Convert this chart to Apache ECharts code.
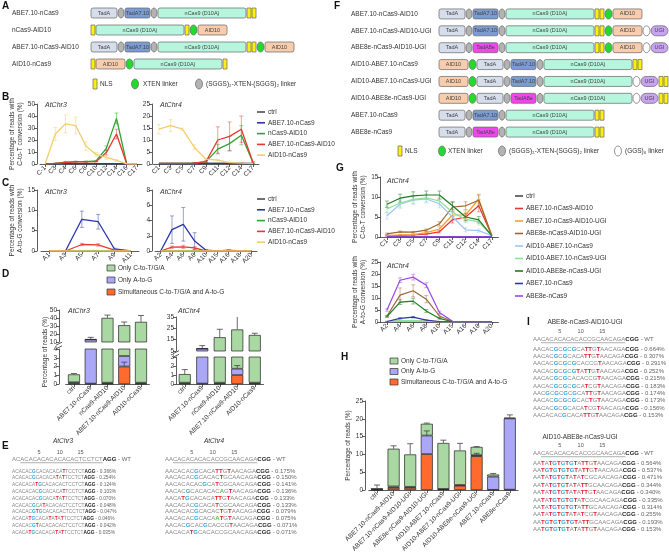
<!DOCTYPE html>
<html><head><meta charset="utf-8">
<script src="https://cdn.jsdelivr.net/npm/echarts@6.0.0/dist/echarts.min.js"></script>
<style>html,body{margin:0;padding:0;background:#fff;}#chart{width:669px;height:556px;}</style>
</head><body><div id="chart"></div>
<script>
// ================= DATA =================
// Panel A constructs
const constructsA = ['ABE7.10-nCas9','nCas9-AID10','ABE7.10-nCas9-AID10','AID10-nCas9'];
const partsA = [
  ['TadA','SG','TadA7.10','SG','nCas9','NLS','NLS'],
  ['NLS','nCas9','NLS','XTEN','AID10'],
  ['TadA','SG','TadA7.10','SG','nCas9','NLS','NLS','XTEN','AID10'],
  ['NLS','AID10','XTEN','nCas9','NLS']
];
// Panel F constructs
const constructsF = ['ABE7.10-nCas9-AID10','ABE7.10-nCas9-AID10-UGI','ABE8e-nCas9-AID10-UGI','AID10-ABE7.10-nCas9','AID10-ABE7.10-nCas9-UGI','AID10-ABE8e-nCas9-UGI','ABE7.10-nCas9','ABE8e-nCas9'];
const partsF = [
  ['TadA','SG','TadA7.10','SG','nCas9','NLS','NLS','XTEN','AID10'],
  ['TadA','SG','TadA7.10','SG','nCas9','NLS','NLS','XTEN','AID10','GGS','UGI'],
  ['TadA','SG','TadA8e','SG','nCas9','NLS','NLS','XTEN','AID10','GGS','UGI'],
  ['AID10','XTEN','TadA','SG','TadA7.10','SG','nCas9','NLS','NLS'],
  ['AID10','XTEN','TadA','SG','TadA7.10','SG','nCas9','GGS','UGI','NLS','NLS'],
  ['AID10','XTEN','TadA','SG','TadA8e','SG','nCas9','GGS','UGI','NLS','NLS'],
  ['TadA','SG','TadA7.10','SG','nCas9','NLS','NLS'],
  ['TadA','SG','TadA8e','SG','nCas9','NLS','NLS']
];

// Panel B / C series
const namesBC = ['ctrl','ABE7.10-nCas9','nCas9-AID10','ABE7.10-nCas9-AID10','AID10-nCas9'];
const bChr3Cats = ['C-1','C3','C4','C6','C8','C10','C12','C14','C16','C17'];
const bChr3Vals = [
  [0,0.1,0.1,0.1,0.1,0.1,0.1,0.1,0,0],
  [0,0.2,0.3,0.3,0.3,0.3,0.3,0.3,0,0],
  [0,0.5,1.5,2,2,2.5,13,38,0.2,0],
  [0,0.5,1.2,1.8,1.8,2,9.5,25,0.2,0],
  [0,25,33.5,32,15,8,5.5,3,0.2,0]
];
const bChr3Err = [null,null,
  [0,0.3,0.5,0.5,0.5,0.5,2,4.5,0,0],
  [0,0.2,0.3,0.3,0.3,0.3,2,4,0,0],
  [0,5.5,7.5,7,3.5,1.5,1.5,0.8,0,0]
];
const bChr4Cats = ['C1','C3','C5','C7','C9','C11','C12','C14','C17'];
const bChr4Vals = [
  [0.1,0.1,0.1,0.1,0.2,0.2,0.2,0.2,0.1],
  [0.2,0.2,0.2,0.2,0.3,0.3,0.3,0.3,0.2],
  [0.3,0.3,0.3,0.4,1,6.2,8.5,12,0.5],
  [0.3,0.3,0.3,0.4,1,10,11.5,14.5,0.5],
  [14.5,16,14.5,7,2,1.6,0.6,0.4,0.3]
];
const bChr4Err = [null,null,
  [0,0,0,0.1,0.3,2,3,4,0.3],
  [0,0,0,0.1,0.3,5.5,6,5.5,0.3],
  [2,2.5,0.5,1,0.3,0.3,0.2,0.1,0]
];
const cChr3Cats = ['A1','A3','A5','A7','A9','A11'];
const cChr3Vals = [
  [0,0,0,0,0,0],
  [0,0,7.8,7.2,0.5,0],
  [0,0,0,0,0,0],
  [0,0,1.6,1.5,0.2,0],
  [0,0,0,0,0,0]
];
const cChr3Err = [null,[0,0,2,1.8,0.2,0],null,[0,0,0.3,0.3,0,0],null];
const cChr4Cats = ['A2','A4','A6','A8','A10','A15','A16','A18','A20'];
const cChr4Vals = [
  [0,0,0,0,0,0,0,0,0],
  [0,2.8,3.5,1.3,0.1,0,0,0,0],
  [0,0,0,0,0,0,0,0,0],
  [0,0.5,0.55,0.4,0,0,0.1,0,0],
  [0,0,0,0,0,0,0,0,0]
];
const cChr4Err = [null,[0,1.8,2.2,1.1,0.1,0,0,0,0],null,[0,0.15,0.2,0.15,0,0,0.1,0,0],null];

// Panel D / H stacked bars (order: simultaneous, only A-to-G, only C-to-T/G/A)
const barNames = ['Simultaneous C-to-T/G/A and A-to-G','Only A-to-G','Only C-to-T/G/A'];
const dCats = ['ctrl','ABE7.10-nCas9','nCas9-AID10','ABE7.10-nCas9-AID10','AID10-nCas9'];
const dChr3Both = [0.05,0.05,0.05,2.0,0.05];
const dChr3AG   = [0.15,13,0.1,1.2,0.1];
const dChr3CT   = [0.9,0.3,40,27.8,35];
const dChr3ErrTop  = [0.1,2.5,3.5,4,8];
const dChr3ErrMid  = [0,0,0,0,0];
const dChr3ErrLow  = [0,0,0,0.5,0];
const dChr4Both = [0.05,0.05,0.05,1.0,0.05];
const dChr4AG   = [0.1,7,0.1,0.7,0.1];
const dChr4CT   = [0.95,0.2,17,22.3,19];
const dChr4ErrTop  = [0.5,2.5,7,12,1.5];
const dChr4ErrMid  = [0,0,0,0.35,0];
const dChr4ErrLow  = [0,0,0,0,0];

const hCats = ['ctrl','ABE7.10-nCas9-AID10','ABE7.10-nCas9-AID10-UGI','ABE8e-nCas9-AID10-UGI','AID10-ABE7.10-nCas9','AID10-ABE7.10-nCas9-UGI','AID10-ABE8e-nCas9-UGI','ABE7.10-nCas9','ABE8e-nCas9'];
const hBoth = [0.05,0.6,0.6,10.1,0.2,1.2,9.5,0.05,0.1];
const hAG   = [0.1,0.4,0.3,5.2,0.1,0.2,0.3,3.7,20];
const hCT   = [0.35,10.6,9.1,3.3,12.9,9.7,2.3,0.6,0.2];
const hErrTop = [0.9,0.8,3,0.2,0.8,2,0.1,0.3,0.8];
const hErrMid = [0,0,0,1.3,0,0,0,0,0];
const hErrLow = [0,0,0,0,0,0.2,0.8,0,0];

// Panel G lines
const namesG = ['ctrl','ABE7.10-nCas9-AID10','ABE7.10-nCas9-AID10-UGI','ABE8e-nCas9-AID10-UGI','AID10-ABE7.10-nCas9','AID10-ABE7.10-nCas9-UGI','AID10-ABE8e-nCas9-UGI','ABE7.10-nCas9','ABE8e-nCas9'];
const gCTCats = ['C1','C3','C5','C7','C9','C11','C12','C14','C17'];
const gCTVals = [
  [0.05,0.05,0.05,0.05,0.05,0.05,0.05,0.05,0.05],
  [0.3,0.4,0.5,0.7,1.3,4.3,5,7.8,0.3],
  [0.4,0.5,0.6,1.1,2,5.5,5.5,9.5,0.3],
  [0.8,1.3,1.2,1.7,3.3,7.5,7.8,9.2,0.3],
  [5.3,8.2,9.2,9.5,8.3,5,1.8,1.6,0.3],
  [7,8.5,9.4,9.8,9,6.2,4.4,3.8,0.3],
  [8.2,9.7,10.3,10.5,10.5,7.8,5,4.3,0.3],
  [0.05,0.05,0.05,0.05,0.05,0.05,0.05,0.05,0.05],
  [0.05,0.05,0.05,0.05,0.05,0.05,0.05,0.05,0.05]
];
const gCTErr = [null,
  [0.1,0.1,0.1,0.2,0.3,0.8,1,1.5,0],
  [0.1,0.1,0.2,0.3,0.5,1,1,1.2,0],
  [0.2,0.2,0.2,0.3,0.5,1.2,1,1.3,0],
  [0.8,1,1,1,1,1,0.5,0.4,0],
  [0.8,1,1,1,1,1,0.8,0.8,0],
  [0.8,1,1,1,1,1,0.8,0.8,0],
  null,null
];
const gAGCats = ['A2','A4','A6','A8','A10','A15','A16','A18','A20'];
const gAGVals = [
  [0,0,0,0,0,0,0,0,0],
  [0.1,0.4,0.5,0.3,0.1,0,0,0,0],
  [0.1,0.5,0.6,0.4,0.1,0,0,0,0],
  [2.5,11.2,13,9.5,2.5,0.2,0,0,0],
  [0.1,0.3,0.4,0.2,0.1,0,0,0,0],
  [0.2,0.6,0.7,0.4,0.1,0,0,0,0],
  [2.2,8.3,8.7,4.6,1.5,0.1,0,0,0],
  [0.2,1.5,2,0.8,0.2,0,0,0,0],
  [5,17.4,18.7,15.3,4,0.3,0,0,0]
];
const gAGErr = [null,null,null,
  [0.3,3,2.5,1.5,0.5,0,0,0,0],
  null,null,
  [0.3,1,1.2,0.6,0.3,0,0,0,0],
  [0.1,0.3,0.3,0.2,0,0,0,0,0],
  [0.5,1,1.2,1,0.5,0,0,0,0]
];

// Panel E / I sequences
const chr3WT = 'ACACACACACACACACTCCTCT', chr3PAM = 'AGG';
const chr3Seqs = ['ACACACGCACACACATTCCTCT','ACACACGCACACATATTCCTCT','ACACACATGCACACACTCCTCT','ACACACACGCACACATTCCTCT','ACACACACGCACATATTCCTCT','ACACACGCATACACACTCCTCT','ACACACGTGCACACACTCCTCT','ACACATGCACATATATTCCTCT','ACACACGTACACACACTCCTCT','ACACATGCACACATATTCCTCT'];
const chr3Pcts = ['0.366%','0.254%','0.124%','0.103%','0.070%','0.048%','0.047%','0.046%','0.042%','0.035%'];
const chr4WT = 'AACACACACACACCGCAACAGA', chr4PAM = 'CGG';
const chr4Seqs = ['AACACACGCACATTGTAACAGA','AACACACGCACACTGCAACAGA','AACACACACGCATCGCAACAGA','AACACGCACACACAGTAACAGA','AACATGCACACATTGTAACAGA','AACACACGCACATCGCAACAGA','AACACACGCACACTGTAACAGA','AACACACGCACAATGTAACAGA','AACACGCACGCACCGTAACAGA','AACACATGCACACCGCAACAGA'];
const chr4Pcts = ['0.175%','0.150%','0.141%','0.136%','0.133%','0.133%','0.079%','0.075%','0.071%','0.071%'];
const iSeqs1 = ['AACACGCGCGCATTGTAACAGA','AACACGCGCACATTGTAACAGA','AACACGCGCGCACCGTAACAGA','AACACGCGCGTATTGTAACAGA','AACACGCGCACACCGTAACAGA','AACACGCGCGCATCGTAACAGA','AACGCGCGCGCATTGTAACAGA','AACACGCGCGCACTGTAACAGA','AACACGCGCACATCGTAACAGA','AACACACGCACATTGTAACAGA'];
const iPcts1 = ['0.664%','0.307%','0.291%','0.252%','0.215%','0.183%','0.174%','0.173%','0.156%','0.153%'];
const iSeqs2 = ['AATATGTGTGTATTGTAACAGA','AATGTGTGTGTATTGTAACAGA','AATATGTGTATATCGCAACAGA','AATATGTGTATATTGCAACAGA','AATATGTGTATATTGTAACAGA','AATATGTGTGTATCGCAACAGA','AATATGTGTGTATTGCAACAGA','AATATGTGTATATCGTAACAGA','AATGTGTGTGTATTGCAACAGA','AATGTGTGTATATTGTAACAGA'];
const iPcts2 = ['0.564%','0.537%','0.471%','0.344%','0.340%','0.335%','0.314%','0.255%','0.193%','0.153%'];

// ================= STYLES =================
const FONT = '"Liberation Sans", Arial, Helvetica, sans-serif';
const COL = {
  'ctrl':'#4d4d4d','ABE7.10-nCas9':'#2b36a8','nCas9-AID10':'#2fa52f','ABE7.10-nCas9-AID10':'#e8372f','AID10-nCas9':'#f0cf6b',
  'ABE7.10-nCas9-AID10-UGI':'#f6a02a','ABE8e-nCas9-AID10-UGI':'#9c6634','AID10-ABE7.10-nCas9':'#9fc3f2',
  'AID10-ABE7.10-nCas9-UGI':'#8be29a','AID10-ABE8e-nCas9-UGI':'#1e7b22','ABE8e-nCas9':'#9a46e8'
};
const BAR_COL = ['#ff6a2e','#a9a7f6','#a9d8a3'];
const PART_W = {TadA:26,'TadA7.10':25,TadA8e:25,nCas9:88,AID10:29,NLS:4,SG:6,XTEN:7,GGS:7,UGI:17};
const PART_ST = {
  TadA:{fill:'#d6deec',r:2,label:'TadA'}, 'TadA7.10':{fill:'#7b9bd3',r:2,label:'TadA7.10'},
  TadA8e:{fill:'#f046ec',r:2,label:'TadA8e'}, nCas9:{fill:'#b6f6df',r:2,label:'nCas9 (D10A)'},
  AID10:{fill:'#f8cdae',r:2,label:'AID10'}, NLS:{fill:'#ffee11',r:0},
  SG:{fill:'#b3b3b3',ell:true}, XTEN:{fill:'#20dd2b',ell:true}, GGS:{fill:'#ffffff',ell:true},
  UGI:{fill:'#c9a2f2',r:5,label:'UGI'}
};

// ================= BUILD =================
const grids = [], xAxes = [], yAxes = [], series = [], graphics = [];
const mctx = document.createElement('canvas').getContext('2d');
function tw(t, size, bold){ mctx.font = (bold?'bold ':'') + size + 'px ' + FONT; return mctx.measureText(t).width; }

function addGrid(g){ grids.push(Object.assign({outerBoundsMode:'none', containLabel:false}, g)); return grids.length-1; }
const axLine = {show:true, lineStyle:{color:'#333', width:0.8}};
const axTick = {show:true, length:3, lineStyle:{color:'#333', width:0.8}};
function valAxis(gi, min, max, interval, extra){
  return Object.assign({type:'value', gridIndex:gi, min, max, interval, axisLine:axLine, axisTick:axTick,
    axisLabel:{fontSize:6.5, color:'#333', margin:2, fontFamily:FONT}, splitLine:{show:false}}, extra||{});
}
function catAxis(gi, data, extra){
  return Object.assign({type:'category', gridIndex:gi, data, boundaryGap:true, axisLine:axLine,
    axisTick:{show:true, alignWithLabel:true, length:3, lineStyle:{color:'#333', width:0.8}},
    axisLabel:{fontSize:6.5, color:'#333', margin:3, rotate:45, interval:0, fontFamily:FONT}}, extra||{});
}
function yName(text, gap){ return {name:text, nameLocation:'middle', nameGap:gap, nameRotate:90,
  nameTextStyle:{fontSize:6.5, color:'#333', lineHeight:8, fontFamily:FONT}}; }

function txt(x, y, text, o){ o = o||{}; graphics.push({type:'text', x, y, rotation:o.rot||0, scaleX:o.sx||1, silent:true, z:10,
  style:{text, fill:o.color||'#333', fontSize:o.size||7, fontFamily:FONT, fontWeight:o.weight||'normal', fontStyle:o.style||'normal',
  align:o.align||'left', verticalAlign:o.va||'middle', rich:o.rich}}); }

// error-bar renderer
function errRender(both, cap, op){
  return function(params, api){
    const x = api.value(0), lo = api.value(1), hi = api.value(2);
    const p1 = api.coord([x, lo]), p2 = api.coord([x, hi]);
    const c = api.visual('color');
    const st = {stroke:c, lineWidth:0.8, opacity:op};
    const ch = [{type:'line', shape:{x1:p1[0],y1:p1[1],x2:p2[0],y2:p2[1]}, style:st},
                {type:'line', shape:{x1:p2[0]-cap,y1:p2[1],x2:p2[0]+cap,y2:p2[1]}, style:st}];
    if (both) ch.push({type:'line', shape:{x1:p1[0]-cap,y1:p1[1],x2:p1[0]+cap,y2:p1[1]}, style:st});
    return {type:'group', children:ch};
  };
}

// ---- schematics ----
function buildSegs(parts){
  const segs = [];
  parts.forEach((row, r) => { let x = 0; row.forEach(p => { segs.push({row:r, x0:x, x1:x+PART_W[p], type:p}); x += PART_W[p] + 1; }); });
  return segs;
}
function schemRender(segs){
  return function(params, api){
    const s = segs[params.dataIndex];
    const a = api.coord([s.x0, s.row]), b = api.coord([s.x1, s.row]);
    const x = a[0], y = a[1], w = b[0]-a[0], h = 10;
    const st = PART_ST[s.type];
    const ch = [];
    if (st.ell) ch.push({type:'ellipse', shape:{cx:x+w/2, cy:y, rx:w/2, ry:h/2}, style:{fill:st.fill, stroke:'#666', lineWidth:0.7}});
    else ch.push({type:'rect', shape:{x, y:y-h/2, width:w, height:h, r:st.r}, style:{fill:st.fill, stroke:'#666', lineWidth:0.7}});
    if (st.label) ch.push({type:'text', style:{x:x+w/2, y:y, text:st.label, align:'center', verticalAlign:'middle', fontSize:5.5, fontFamily:FONT, fill:'#444'}});
    return {type:'group', children:ch};
  };
}
function addSchem(g, constructs, parts, maxX, margin){
  const gi = addGrid(g);
  xAxes.push({type:'value', gridIndex:gi, min:0, max:maxX, show:false});
  yAxes.push({type:'category', gridIndex:gi, data:constructs, inverse:true, axisLine:{show:false}, axisTick:{show:false},
    splitLine:{show:false}, axisLabel:{fontSize:6.5, color:'#333', align:'left', margin, fontFamily:FONT}});
  const segs = buildSegs(parts);
  series.push({type:'custom', xAxisIndex:gi, yAxisIndex:gi, silent:true, data:segs.map(s=>[s.x0, s.row, s.x1]),
    encode:{x:[0,2], y:1}, renderItem:schemRender(segs), clip:false});
}
addSchem({left:91, top:4.5, width:200, height:68}, constructsA, partsA, 200, 79);
addSchem({left:439, top:5.5, width:230, height:135}, constructsF, partsF, 230, 88);

// ---- line charts ----
function addLines(g, cats, names, vals, errs, ymax, yint, off, lw, nameCfg){
  const gi = addGrid(g);
  xAxes.push(catAxis(gi, cats));
  yAxes.push(valAxis(gi, 0, ymax, yint, Object.assign({offset:off}, nameCfg||{})));
  names.forEach((n, k) => {
    if (errs[k]) {
      const d = []; errs[k].forEach((e, i) => { if (e > 0) d.push([i, Math.max(0, vals[k][i]-e), vals[k][i]+e]); });
      series.push({type:'custom', xAxisIndex:gi, yAxisIndex:gi, data:d, encode:{x:0, y:[1,2]}, renderItem:errRender(true, 2, 0.6),
        itemStyle:{color:COL[n]}, clip:true, z:1, silent:true});
    }
    series.push({type:'line', name:n, xAxisIndex:gi, yAxisIndex:gi, data:vals[k], showSymbol:false, symbol:'none',
      lineStyle:{width:lw, color:COL[n]}, itemStyle:{color:COL[n]}, z:2, silent:true});
  });
  return gi;
}
addLines({left:40, top:104, width:102, height:60}, bChr3Cats, namesBC, bChr3Vals, bChr3Err, 50, 10, 3, 1.3,
  yName('Percentage of reads with\nC-to-T conversion (%)', 7));
addLines({left:153, top:104, width:106, height:60}, bChr4Cats, namesBC, bChr4Vals, bChr4Err, 25, 5, 1, 1.3);
addLines({left:41, top:190, width:98, height:61}, cChr3Cats, namesBC, cChr3Vals, cChr3Err, 15, 5, 4, 1.3,
  yName('Percentage of reads with\nA-to-G conversion (%)', 7));
addLines({left:155, top:190, width:102, height:61}, cChr4Cats, namesBC, cChr4Vals, cChr4Err, 8, 2, 3, 1.3);
addLines({left:380.4, top:177, width:118, height:60}, gCTCats, namesG, gCTVals, gCTErr, 15, 5, 0, 1.2,
  yName('Percentage of reads with\nC-to-T conversion (%)', 7));
addLines({left:380.4, top:262, width:118, height:60}, gAGCats, namesG, gAGVals, gAGErr, 25, 5, 0, 1.2,
  yName('Percentage of reads with\nA-to-G conversion (%)', 7));

// ---- stacked bars ----
function addBars(g, cats, vals, errs, ymin, ymax, yint, off, showX, stack, bw, nameCfg){
  const gi = addGrid(g);
  xAxes.push(catAxis(gi, cats, showX ? {} : {show:false}));
  yAxes.push(valAxis(gi, ymin, ymax, yint, Object.assign({offset:off}, nameCfg||{})));
  barNames.forEach((n, k) => {
    series.push({type:'bar', name:n, stack, xAxisIndex:gi, yAxisIndex:gi, data:vals[k], barWidth:bw, silent:true,
      itemStyle:{color:BAR_COL[k], borderColor:'#222', borderWidth:0.7}});
  });
  const d = [];
  cats.forEach((c, i) => {
    let cum = 0;
    for (let k = 0; k < 3; k++) { cum += vals[k][i]; if (errs[k][i] > 0) d.push([i, cum, cum + errs[k][i]]); }
  });
  series.push({type:'custom', xAxisIndex:gi, yAxisIndex:gi, data:d, encode:{x:0, y:[1,2]}, renderItem:errRender(false, 3, 1),
    itemStyle:{color:'#444'}, clip:true, z:5, silent:true});
}
const d3v = [dChr3Both, dChr3AG, dChr3CT], d3e = [dChr3ErrLow, dChr3ErrMid, dChr3ErrTop];
const d4v = [dChr4Both, dChr4AG, dChr4CT], d4e = [dChr4ErrLow, dChr4ErrMid, dChr4ErrTop];
addBars({left:65.6, top:310, width:83.75, height:32}, dCats, d3v, d3e, 10, 50, 10, 6.6, false, 'd3u', 12);
addBars({left:65.6, top:349, width:83.75, height:35}, dCats, d3v, d3e, 0, 4, 1, 6.6, true, 'd3l', 12);
addBars({left:176, top:317, width:87.5, height:34}, dCats, d4v, d4e, 5, 35, 10, 0, false, 'd4u', 12);
addBars({left:176, top:357, width:87.5, height:27}, dCats, d4v, d4e, 0, 3, 1, 0, true, 'd4l', 12);
addBars({left:368.7, top:401, width:149.4, height:89}, hCats, [hBoth, hAG, hCT], [hErrLow, hErrMid, hErrTop], 0, 25, 5, 3.7, true, 'h', 12,
  yName('Percentage of reads (%)', 11));

// ---- text / legends ----
[['A',2,6],['B',2,97],['C',2,183],['D',2,274],['E',2,446],['F',334,6],['G',336,168],['H',341,357],['I',527,322]].forEach(p =>
  txt(p[1], p[2], p[0], {size:10, weight:'bold', color:'#111'}));
[['AtChr3',45,105],['AtChr4',160,105],['AtChr3',45,192],['AtChr4',160,192],['AtChr3',68,311],['AtChr4',178,311],['AtChr4',387,181],['AtChr4',387,266]]
  .forEach(p => txt(p[1], p[2], p[0], {size:7, style:'italic'}));
txt(45, 352, 'Percentage of reads (%)', {size:6.5, align:'center', rot:Math.PI/2});
// axis break marks
[[59,345.5],[176,354]].forEach(p => {
  [-1.8, 1.8].forEach(dy => graphics.push({type:'line', silent:true, shape:{x1:p[0]-3, y1:p[1]+dy+1.5, x2:p[0]+3, y2:p[1]+dy-1.5}, style:{stroke:'#333', lineWidth:0.8}}));
});

function lineLegend(x, y, dy, names){
  names.forEach((n, i) => {
    graphics.push({type:'rect', silent:true, shape:{x, y:y+i*dy-0.8, width:8, height:1.6}, style:{fill:COL[n]}});
    txt(x+11, y+i*dy, n, {size:6.5});
  });
}
lineLegend(257, 112, 10.8, namesBC);
lineLegend(257, 199, 10.8, namesBC);
lineLegend(515, 196, 12.5, namesG);
function barLegend(x, y, dy){
  [2,1,0].forEach((k, i) => {
    graphics.push({type:'rect', silent:true, shape:{x, y:y+i*dy-3, width:8, height:6}, style:{fill:BAR_COL[k], stroke:'#333', lineWidth:0.7}});
    txt(x+11, y+i*dy, barNames[k], {size:6.5});
  });
}
barLegend(107, 268, 12);
barLegend(390, 361, 10.5);

function schemLegend(items, y){
  items.forEach(it => {
    if (it.t === 'NLS') graphics.push({type:'rect', silent:true, shape:{x:it.x-2, y:y-5, width:4, height:10}, style:{fill:PART_ST.NLS.fill, stroke:'#666', lineWidth:0.7}});
    else graphics.push({type:'ellipse', silent:true, shape:{cx:it.x, cy:y, rx:3.5, ry:5}, style:{fill:PART_ST[it.t].fill, stroke:'#666', lineWidth:0.7}});
    txt(it.tx, y, it.label, {size:6.5});
  });
}
schemLegend([{t:'NLS',x:95,tx:100,label:'NLS'},{t:'XTEN',x:135,tx:143,label:'XTEN linker'},{t:'SG',x:199,tx:206,label:'(SGGS)\u2082-XTEN-(SGGS)\u2082 linker'}], 84);
schemLegend([{t:'NLS',x:400,tx:405,label:'NLS'},{t:'XTEN',x:442,tx:448,label:'XTEN linker'},{t:'SG',x:502,tx:509,label:'(SGGS)\u2082-XTEN-(SGGS)\u2082 linker'},{t:'GGS',x:618,tx:625,label:'(GGS)\u2086 linker'}], 151);

// ---- sequence panels ----
function richFor(fs){
  const b = {fontSize:fs, fontFamily:FONT};
  return {
    n:Object.assign({fill:'#8a8a8a'}, b), g:Object.assign({fill:'#29a8e0', fontWeight:'bold'}, b),
    t:Object.assign({fill:'#ea1d25', fontWeight:'bold'}, b), o:Object.assign({fill:'#5cc04b', fontWeight:'bold'}, b),
    p:Object.assign({fill:'#222', fontWeight:'bold'}, b), q:Object.assign({fill:'#666'}, b)
  };
}
function seqRich(s, wt){
  let out = '', cur = null, buf = '';
  for (let i = 0; i < s.length; i++) {
    const c = s[i], w = wt[i];
    const st = c === w ? 'n' : (c === 'G' && w === 'A') ? 'g' : (c === 'T' && w === 'C') ? 't' : 'o';
    if (st !== cur) { if (buf) out += '{' + cur + '|' + buf + '}'; cur = st; buf = ''; }
    buf += c;
  }
  if (buf) out += '{' + cur + '|' + buf + '}';
  return out;
}
function seqBlock(c){
  txt(c.titleX, c.yTitle, c.title, {size:6.5, style:c.italic ? 'italic' : 'normal', align:'center'});
  [5,10,15].forEach(k => { const idx = k + 1;
    const x = c.x0 + tw(c.wt.slice(0, idx), c.fs) + tw(c.wt[idx], c.fs) / 2;
    txt(x, c.yNum, String(k), {size:5.5, align:'center', color:'#555'}); });
  graphics.push({type:'text', x:c.x0, y:c.yWT, silent:true, style:{text:'{n|' + c.wt + '}{p|' + c.pam + '}{q| - WT}', rich:richFor(c.fs),
    verticalAlign:'middle', align:'left', fontSize:c.fs, fontFamily:FONT}});
  const uy = c.yWT + c.fs * 0.62;
  graphics.push({type:'line', silent:true, shape:{x1:c.x0 + tw(c.wt.slice(0, 2), c.fs), y1:uy, x2:c.x0 + tw(c.wt, c.fs), y2:uy}, style:{stroke:'#777', lineWidth:0.6}});
  c.seqs.forEach((s, i) => {
    graphics.push({type:'text', x:c.x0, y:c.yRow0 + i * c.dy, scaleX:c.sx || 1, silent:true,
      style:{text:seqRich(s, c.wt) + '{p|' + c.pam + '}{q| - ' + c.pcts[i] + '}', rich:richFor(c.fs), verticalAlign:'middle', align:'left', fontSize:c.fs, fontFamily:FONT}});
  });
}
seqBlock({x0:12, title:'AtChr3', titleX:63, yTitle:441, italic:true, yNum:452, yWT:459, yRow0:471, dy:6.8, wt:chr3WT, pam:chr3PAM, seqs:chr3Seqs, pcts:chr3Pcts, fs:6, sx:0.8});
seqBlock({x0:165, title:'AtChr4', titleX:214, yTitle:441, italic:true, yNum:452, yWT:459, yRow0:471, dy:6.8, wt:chr4WT, pam:chr4PAM, seqs:chr4Seqs, pcts:chr4Pcts, fs:6});
seqBlock({x0:533, title:'ABE8e-nCas9-AID10-UGI', titleX:585, yTitle:322, italic:false, yNum:331, yWT:339, yRow0:349, dy:7.4, wt:chr4WT, pam:chr4PAM, seqs:iSeqs1, pcts:iPcts1, fs:6});
seqBlock({x0:533, title:'AID10-ABE8e-nCas9-UGI', titleX:580, yTitle:437, italic:false, yNum:445, yWT:453, yRow0:463, dy:7.4, wt:chr4WT, pam:chr4PAM, seqs:iSeqs2, pcts:iPcts2, fs:6});

const chart = echarts.init(document.getElementById('chart'), null, {renderer:'canvas'});
chart.setOption({
  animation:false, backgroundColor:'#fff', textStyle:{fontFamily:FONT},
  grid:grids, xAxis:xAxes, yAxis:yAxes, series, graphic:{elements:graphics}
});
</script></body></html>
